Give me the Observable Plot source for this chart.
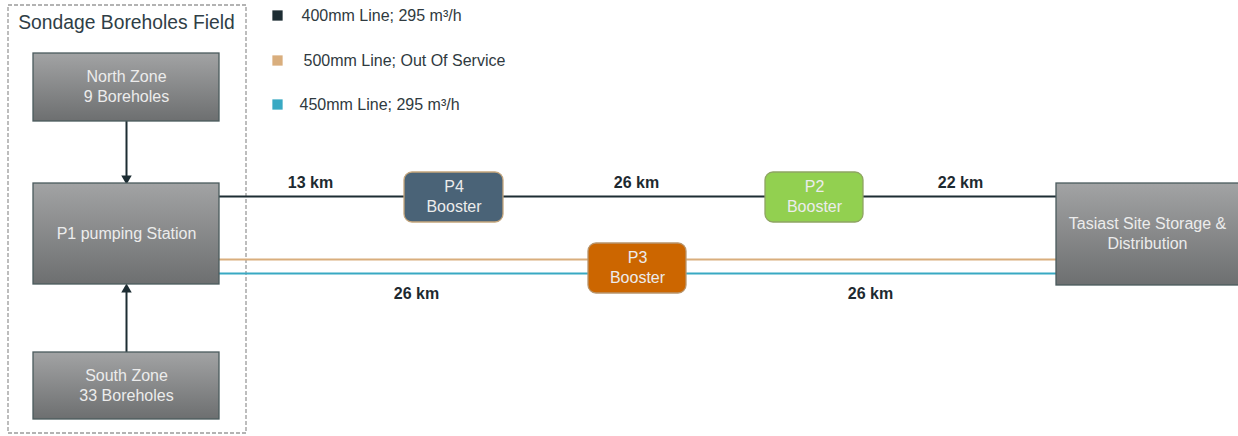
<!DOCTYPE html>
<html>
<head>
<meta charset="utf-8">
<script src="https://cdn.jsdelivr.net/npm/d3@7"></script>
<script src="https://cdn.jsdelivr.net/npm/@observablehq/plot@0.6"></script>
<style>
  html, body { margin: 0; padding: 0; background: #fff; }
  svg { display: block; }
</style>
</head>
<body>
<div id="chart"></div>
<script>
// ---- data ----
const fieldTitle = "Sondage Boreholes Field";
const nodeIds = ["north", "p1", "south", "p4", "p2", "p3", "tasiast"];
const nodeLabels = ["North Zone\n9 Boreholes", "P1 pumping Station", "South Zone\n33 Boreholes", "P4\nBooster", "P2\nBooster", "P3\nBooster", "Tasiast Site Storage &\nDistribution"];
const segmentKm = [13, 26, 22, 26, 26];
const legendLabels = ["400mm Line; 295 m³/h", "500mm Line; Out Of Service", "450mm Line; 295 m³/h"];
const lineIds = ["400", "500", "450"];

// ---- layout & styles (not data) ----
const W = 1238, H = 436;
const font = "Arial, 'Liberation Sans', Helvetica, sans-serif";
const lineColor = {"400": "#1d2d33", "500": "#d9ae7d", "450": "#39a9c3"};
const boxes = {
  north:   {x1: 33,   x2: 219,  y1: 53,  y2: 121, fill: "url(#gGray)", stroke: "#4b5b5d", r: 0},
  p1:      {x1: 33,   x2: 219,  y1: 183, y2: 284, fill: "url(#gGray)", stroke: "#4b5b5d", r: 0},
  south:   {x1: 33,   x2: 219,  y1: 352, y2: 419, fill: "url(#gGray)", stroke: "#4b5b5d", r: 0},
  p4:      {x1: 404,  x2: 503,  y1: 172, y2: 222, fill: "#4a6377", stroke: "#c5a67c", r: 8},
  p2:      {x1: 765,  x2: 863,  y1: 172, y2: 222, fill: "#92d050", stroke: "#8fa463", r: 8},
  p3:      {x1: 588,  x2: 686,  y1: 243, y2: 293, fill: "#cc6600", stroke: "#b8956d", r: 8},
  tasiast: {x1: 1056, x2: 1240, y1: 183, y2: 285, fill: "url(#gGray)", stroke: "#4b5b5d", r: 0}
};
const lineY = {"400": 196, "500": 259, "450": 273};
const lineX = [219, 1056];
const kmPos = [[310, 182], [636, 182], [960, 182], [416, 293], [870, 293]];
const legendPos = [[277, 15, 301], [277, 60, 303], [277, 104, 299]];
const fieldBox = {x1: 8, x2: 246, y1: 5, y2: 433};

// ---- tables built from the arrays ----
const nodes = nodeIds.map((id, i) => ({id, label: nodeLabels[i], ...boxes[id]}));
const pipes = lineIds.map(id => ({id, x1: lineX[0], x2: lineX[1], y: lineY[id], color: lineColor[id]}));
const kms = segmentKm.map((k, i) => ({label: `${k} km`, x: kmPos[i][0], y: kmPos[i][1]}));
const legend = legendLabels.map((l, i) => ({label: l, color: lineColor[lineIds[i]], sx: legendPos[i][0], y: legendPos[i][1], tx: legendPos[i][2]}));
const arrows = [
  {x: 126, y1: 121, y2: 176, tip: 178, rot: 180},
  {x: 126, y1: 352, y2: 291, tip: 289, rot: 0}
];

const defs = () => {
  const d = d3.create("svg:defs");
  const g = d.append("linearGradient").attr("id", "gGray").attr("x1", 0).attr("x2", 0).attr("y1", 0).attr("y2", 1);
  g.append("stop").attr("offset", "0%").attr("stop-color", "#a2a3a4");
  g.append("stop").attr("offset", "100%").attr("stop-color", "#6d6f70");
  return d.node();
};

const chart = Plot.plot({
  width: W, height: H, margin: 0,
  style: {fontFamily: font, background: "#fff", overflow: "visible"},
  x: {domain: [0, W], range: [0, W], axis: null},
  y: {domain: [0, H], range: [0, H], axis: null},
  marks: [
    defs,
    // dashed field boundary
    Plot.rect([fieldBox], {x1: "x1", x2: "x2", y1: "y1", y2: "y2", fill: "none", stroke: "#9a9a9a", strokeWidth: 1.3, strokeDasharray: "4,2"}),
    Plot.text([fieldTitle], {x: 126, y: 22, text: d => d, fontSize: 19.3, fill: "#2f3e46"}),
    // pipelines
    Plot.ruleY(pipes, {x1: "x1", x2: "x2", y: "y", stroke: "color", strokeWidth: 2}),
    // arrows
    Plot.ruleX(arrows, {x: "x", y1: "y1", y2: "y2", stroke: "#1d2d33", strokeWidth: 2}),
    Plot.dot(arrows, {x: "x", y: "tip", symbol: "triangle2", r: 5, fill: "#1d2d33", stroke: "none", rotate: "rot"}),
    // boxes
    ...nodes.map(n => Plot.rect([n], {x1: "x1", x2: "x2", y1: "y1", y2: "y2", fill: n.fill, stroke: n.stroke, strokeWidth: 1.3, rx: n.r})),
    Plot.text(nodes, {x: d => (d.x1 + Math.min(d.x2, W)) / 2, y: d => (d.y1 + d.y2) / 2 - 1.5, text: "label", fill: "#ececec", fontSize: 16, lineHeight: 1.25}),
    // distance labels
    Plot.text(kms, {x: "x", y: "y", text: "label", fontWeight: "bold", fontSize: 16, fill: "#1d2a30"}),
    // legend
    Plot.dot(legend, {x: "sx", y: "y", symbol: "square", r: 5.8, fill: "color", stroke: "none"}),
    Plot.text(legend, {x: "tx", y: "y", text: "label", textAnchor: "start", fontSize: 16, fill: "#2f3a40"})
  ]
});
document.getElementById("chart").append(chart);
</script>
</body>
</html>
